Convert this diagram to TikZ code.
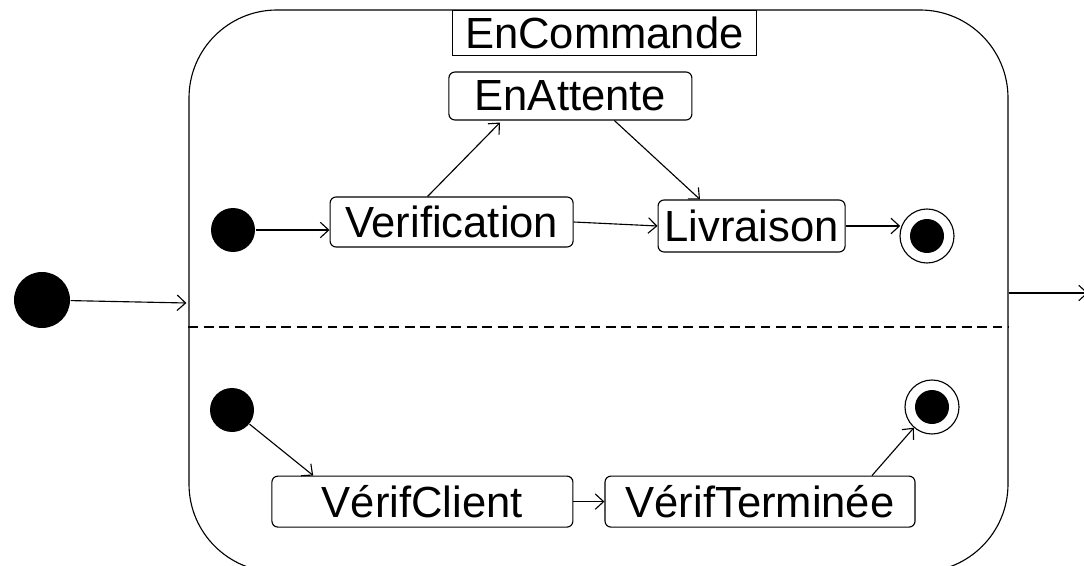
\documentclass[tikz,border=0pt]{standalone}
\usepackage{fontspec}
\setmainfont{Liberation Sans}
\usepackage{tikz}
\usetikzlibrary{arrows.meta,calc,positioning}
\tikzstyle{arrow} = [draw, -{Straight Barb[length=6pt,width=11pt]}]
\tikzstyle{state} = [rectangle, draw, rounded corners=0.15cm, inner sep=0pt,
                     font={\fontsize{31}{36}\selectfont}]
\tikzstyle{init} = [circle, fill=black, inner sep=0pt]
\tikzstyle{final} = [circle, draw, inner sep=0pt, minimum size=1.35cm,
                     path picture={\fill (path picture bounding box.center) circle (0.425cm);}]
\begin{document}
\begin{tikzpicture}[line width=0.8pt]
      \useasboundingbox (0,0) rectangle (27.1,-14.15);
      \clip (0,0) rectangle (27.1,-14.15);
      % composite state and its title
      \node [draw, rounded corners=2.2cm, minimum width=20.475cm,
             minimum height=14.05cm] at (14.9625,-7.275) (commande) {};
      \node [draw, inner sep=0pt, minimum width=7.6cm, minimum height=1.125cm,
             anchor=north, font={\fontsize{31}{36}\selectfont}]
        at (15.11,-0.25) (titre) {EnCommande};
      \coordinate (split) at (0,-8.175);
      \draw [dash pattern=on 7pt off 4pt] (commande.west |- split) -- (commande.east |- split);
      % upper region
      \node [init, minimum size=1.1cm] at (5.825,-5.75) (init1) {};
      \node [state, minimum width=6.075cm, minimum height=1.25cm]
        at (11.29,-5.55) (verif) {Verification};
      \node [state, minimum width=6.075cm, minimum height=1.2cm]
        at (14.26,-2.4) (attente) {EnAttente};
      \node [state, minimum width=4.675cm, minimum height=1.3cm]
        at (18.79,-5.65) (livr) {Livraison};
      \node [final] at (23.175,-5.9) (fin1) {};
      % lower region
      \node [init, minimum size=1.1cm] at (5.8,-10.25) (init2) {};
      \node [state, minimum width=7.525cm, minimum height=1.275cm]
        at (10.56,-12.54) (client) {VérifClient};
      \node [state, minimum width=7.75cm, minimum height=1.275cm]
        at (19.0,-12.54) (termine) {VérifTerminée};
      \node [final] at (23.3,-10.175) (fin2) {};
      % outer initial state
      \node [init, minimum size=1.4cm] at (1.05,-7.5) (start) {};
      \coordinate (entry) at (4.66,-7.575);
      \coordinate (exit) at (27.2,-7.325);
      \path [arrow] (start) -- (entry);
      \path [arrow] (commande.east |- exit) -- (exit);
      \path [arrow] (init1) -- (verif.west |- init1);
      \path [arrow] ($(verif.north)+(-0.6,0)$) -- ($(attente.south)+(-1.76,-0.05)$);
      \path [arrow] ($(attente.south)+(1.1,0)$) -- ($(livr.north)+(-1.29,0)$);
      \path [arrow] (verif.east) -- (livr.west);
      \path [arrow] (livr.east) -- ($(fin1.west |- livr.east)+(0.02,0)$);
      \path [arrow] (init2) -- ($(client.north)+(-2.73,0)$);
      \path [arrow] (client.east) -- (termine.west);
      \path [arrow] ($(termine.north)+(2.8,0)$) -- (fin2);
    \end{tikzpicture}
\end{document}
